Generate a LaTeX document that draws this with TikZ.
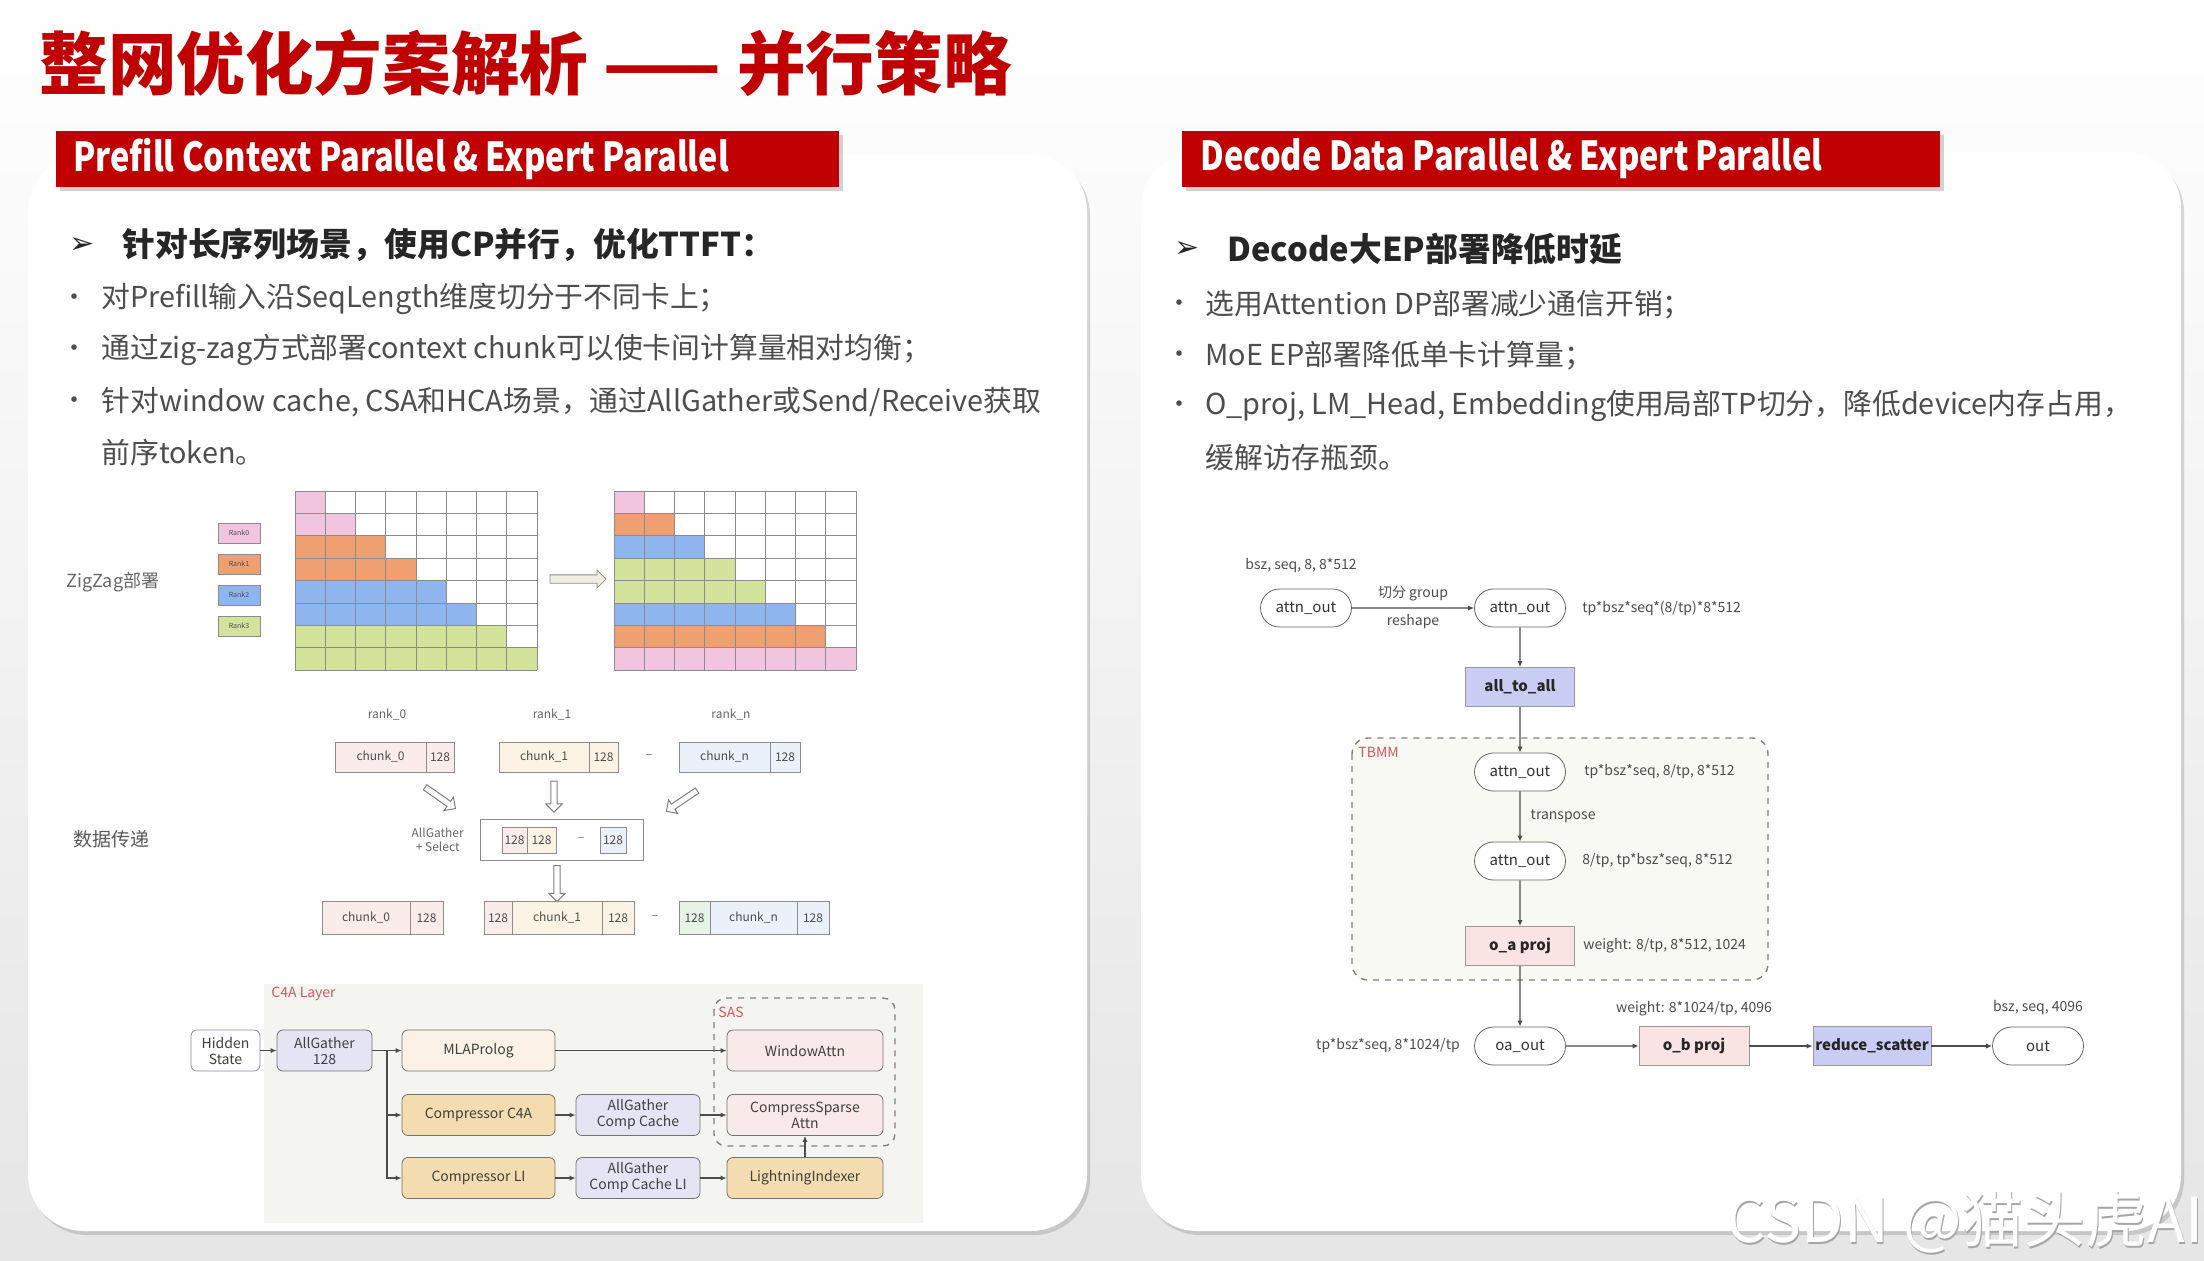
\documentclass[tikz,border=0pt]{standalone}
\usepackage{fontspec}
\setmainfont{Noto Sans CJK SC}
\newfontfamily\bannerfont[FakeStretch=0.815]{Noto Sans CJK SC}
\newfontfamily\arrowfont{DejaVu Sans}
\usetikzlibrary{positioning}
\usetikzlibrary{arrows.meta}
\usetikzlibrary{shapes.misc,shapes.arrows}
\usetikzlibrary{shadows}
\usetikzlibrary{calc}

\definecolor{titlered}{HTML}{C00000}
\definecolor{headgray}{HTML}{262626}
\definecolor{bodygray}{HTML}{4D4D4D}
\definecolor{zpink}{HTML}{F1C5E0}
\definecolor{zorange}{HTML}{EF9F70}
\definecolor{zblue}{HTML}{8FB5EE}
\definecolor{zgreen}{HTML}{D3E39C}
\definecolor{chpink}{HTML}{FCEBEB}
\definecolor{chbeige}{HTML}{FDF3E4}
\definecolor{chblue}{HTML}{EBF1FB}
\definecolor{chgreen}{HTML}{E5F4E4}
\definecolor{lav}{HTML}{E4E4F4}
\definecolor{tan}{HTML}{F3DCAF}
\definecolor{beige}{HTML}{FBF1E6}
\definecolor{lpink}{HTML}{FAE9E9}
\definecolor{opblue}{HTML}{C9CDF4}
\definecolor{oppink}{HTML}{F9E3E3}
\definecolor{flowred}{HTML}{D05A5A}
\definecolor{tbmmbg}{HTML}{F8F9F3}
\definecolor{c4abg}{HTML}{F4F5F0}
\definecolor{arrowbg}{HTML}{F0EEE0}

\begin{document}
\begin{tikzpicture}[x=0.5pt, y=-0.5pt,
  bullet/.style={anchor=west, inner sep=0, text=bodygray, font=\fontsize{14.4}{16}\selectfont},
  dot/.style={inner sep=0, text=bodygray, font=\fontsize{13}{16}\selectfont},
  headline/.style={anchor=west, inner sep=0, text=headgray, font=\fontsize{16.4}{18}\selectfont\bfseries},
  headmark/.style={inner sep=0, text=headgray, font=\arrowfont\fontsize{15}{16}\selectfont},
  bannertext/.style={anchor=west, inner sep=0, text=white, font=\bannerfont\fontsize{20}{22}\selectfont\bfseries},
  gridline/.style={draw=black!45, line width=0.5pt},
  rankbox/.style={draw=black!45, minimum width=21pt, minimum height=10pt, inner sep=0, font=\fontsize{3.5}{4}\selectfont, text=black!70},
  seg/.style={draw=black!45, minimum height=15pt, inner sep=0, outer sep=0, font=\fontsize{6}{7}\selectfont, text=black!70},
  hollow/.style={single arrow, draw=black!50, fill=white, inner sep=1.3pt, single arrow head extend=2.5pt, line width=0.5pt},
  small/.style={inner sep=0, font=\fontsize{6}{7}\selectfont, text=black!60},
  layer/.style={draw=black!55, rounded corners=3pt, minimum height=20.5pt, inner sep=1pt, align=center, font=\fontsize{7}{8}\selectfont, text=black!75},
  flow/.style={-{Latex[length=3pt,width=2.6pt]}, draw=black!70, line width=0.7pt},
  stadium/.style={rounded rectangle, draw=black!60, fill=white, minimum width=47.5pt, minimum height=19pt, inner sep=1pt, font=\fontsize{7.5}{8}\selectfont, text=black!80},
  opbox/.style={draw=black!40, minimum height=19.5pt, inner sep=1pt, font=\fontsize{7.5}{8}\selectfont\bfseries, text=black!85},
  note/.style={inner sep=0, font=\fontsize{7}{8}\selectfont, text=black!70},
  grouplabel/.style={inner sep=0, anchor=west, font=\fontsize{7}{8}\selectfont, text=flowred}]

  \useasboundingbox (0,0) rectangle (2204,1260);
  \shade[top color=white, bottom color=black!10] (0,0) rectangle (2204,1260);

  % panels and banners
  \path[fill=white, rounded corners=28pt, drop shadow={opacity=0.3, shadow xshift=1.5pt, shadow yshift=-2pt}] (28,155) rectangle (1087,1231);
  \path[fill=white, rounded corners=28pt, drop shadow={opacity=0.3, shadow xshift=1.5pt, shadow yshift=-2pt}] (1141,152) rectangle (2181,1231);
  \fill[titlered, drop shadow={opacity=0.35, shadow xshift=2pt, shadow yshift=-2pt}] (56,131) rectangle (839,187);
  \fill[titlered, drop shadow={opacity=0.35, shadow xshift=2pt, shadow yshift=-2pt}] (1182,131) rectangle (1940,187);

  \node[anchor=west, inner sep=0, text=titlered, font=\fontsize{34.3}{36}\selectfont\bfseries] (title) at (39,63) {整网优化方案解析 —— 并行策略};
  \node[bannertext] (bannerL) at (73,159) {Prefill Context Parallel \& Expert Parallel};
  \node[bannertext] (bannerR) at (1200,159) {Decode Data Parallel \& Expert Parallel};

  % left text
  \node[headmark] (markL) at (82,245) {➢};
  \node[headline] (headL) at (122,245) {针对长序列场景，使用CP并行，优化TTFT：};
  \node[dot] (dotL1) at (74,300) {•};
  \node[dot] (dotL2) at (74,351) {•};
  \node[dot] (dotL3) at (74,403) {•};
  \node[bullet] (lineL1) at (101,299) {对Prefill输入沿SeqLength维度切分于不同卡上；};
  \node[bullet] (lineL2) at (101,350) {通过zig-zag方式部署context chunk可以使卡间计算量相对均衡；};
  \node[bullet] (lineL3) at (101,402) {针对window cache, CSA和HCA场景，通过AllGather或Send/Receive获取};
  \node[bullet] (lineL4) at (101,453) {前序token。};

  % right text
  \node[headmark] (markR) at (1187,249) {➢};
  \node[headline] (headR) at (1227,249) {Decode大EP部署降低时延};
  \node[dot] (dotR1) at (1179,306) {•};
  \node[dot] (dotR2) at (1179,357) {•};
  \node[dot] (dotR3) at (1179,407) {•};
  \node[bullet] (lineR1) at (1205,305) {选用Attention DP部署减少通信开销；};
  \node[bullet] (lineR2) at (1205,356) {MoE EP部署降低单卡计算量；};
  \node[bullet] (lineR3) at (1205,406) {O\_proj, LM\_Head, Embedding使用局部TP切分，降低device内存占用，};
  \node[bullet] (lineR4) at (1205,458) {缓解访存瓶颈。};

  % zigzag grids
  \node[anchor=west, inner sep=0, text=black!60, font=\fontsize{9}{10}\selectfont] (zzlabel) at (66,582) {ZigZag部署};
  \node[rankbox, fill=zpink] (rank0) at (239,533) {Rank0};
  \node[rankbox, fill=zorange] (rank1) at (239,564) {Rank1};
  \node[rankbox, fill=zblue] (rank2) at (239,595) {Rank2};
  \node[rankbox, fill=zgreen] (rank3) at (239,626) {Rank3};
  \foreach \r/\n/\c in {0/1/zpink,1/2/zpink,2/3/zorange,3/4/zorange,4/5/zblue,5/6/zblue,6/7/zgreen,7/8/zgreen}
    \fill[\c] (295,491+\r*22.4) rectangle ++(\n*30.25,22.4);
  \foreach \r/\n/\c in {0/1/zpink,1/2/zorange,2/3/zblue,3/4/zgreen,4/5/zgreen,5/6/zblue,6/7/zorange,7/8/zpink}
    \fill[\c] (614,491+\r*22.4) rectangle ++(\n*30.25,22.4);
  \foreach \gx in {295,614}
    \foreach \i in {0,...,8} {
      \draw[gridline] (\gx+\i*30.25,491) -- ++(0,179.2);
      \draw[gridline] (\gx,491+\i*22.4) -- ++(242,0);
    }
  \node[single arrow, draw=black!45, fill=arrowbg, minimum height=28pt, minimum width=9pt, inner sep=1.5pt, single arrow head extend=2pt] (zzarrow) at (576,579) {};

  % data transfer
  \node[anchor=west, inner sep=0, text=black!65, font=\fontsize{9.5}{10}\selectfont] (dtlabel) at (73,839) {数据传递};
  \node[small] (lab0) at (387,715) {rank\_0};
  \node[small] (lab1) at (552,715) {rank\_1};
  \node[small] (labn) at (731,715) {rank\_n};

  \node[seg, fill=chpink, minimum width=45.5pt, anchor=west] (t0) at (335,757) {chunk\_0};
  \node[seg, fill=chpink, minimum width=14pt, right=0pt of t0] (t0b) {128};
  \node[seg, fill=chbeige, minimum width=45pt, anchor=west] (t1) at (499,757) {chunk\_1};
  \node[seg, fill=chbeige, minimum width=14.5pt, right=0pt of t1] (t1b) {128};
  \node[small] (tdots) at (649,757) {–};
  \node[seg, fill=chblue, minimum width=45.5pt, anchor=west] (tn) at (679,757) {chunk\_n};
  \node[seg, fill=chblue, minimum width=15pt, right=0pt of tn] (tnb) {128};

  \node[hollow, minimum height=18.5pt, minimum width=8pt, rotate=-35] (arr0) at (439,797) {};
  \node[hollow, minimum height=15.5pt, minimum width=8pt, rotate=-90] (arr1) at (554,795) {};
  \node[hollow, minimum height=18.5pt, minimum width=8pt, rotate=-146] (arrn) at (683,800) {};

  \node[draw=black!45, minimum width=81.5pt, minimum height=20.5pt, inner sep=0] (gather) at (562,840) {};
  \node[seg, fill=chpink, minimum width=12.5pt, minimum height=13pt, anchor=west] (g0) at (502,840) {128};
  \node[seg, fill=chbeige, minimum width=14.5pt, minimum height=13pt, right=0pt of g0] (g1) {128};
  \node[small] (gdots) at (581,840) {–};
  \node[seg, fill=chblue, minimum width=13pt, minimum height=13pt, anchor=west] (gn) at (600,840) {128};
  \node[small, align=center, left=8pt of gather] (aglabel) {AllGather\\+ Select};
  \node[hollow, minimum height=18pt, minimum width=8pt, rotate=-90] (arr2) at (557,882) {};

  \node[seg, fill=chpink, minimum width=44pt, minimum height=16.5pt, anchor=west] (b0) at (322,918) {chunk\_0};
  \node[seg, fill=chpink, minimum width=16.5pt, minimum height=16.5pt, right=0pt of b0] (b0b) {128};
  \node[seg, fill=chpink, minimum width=14pt, minimum height=16.5pt, anchor=west] (b1a) at (484,918) {128};
  \node[seg, fill=chbeige, minimum width=45pt, minimum height=16.5pt, right=0pt of b1a] (b1) {chunk\_1};
  \node[seg, fill=chbeige, minimum width=16pt, minimum height=16.5pt, right=0pt of b1] (b1b) {128};
  \node[small] (bdots) at (655,918) {–};
  \node[seg, fill=chgreen, minimum width=15.5pt, minimum height=16.5pt, anchor=west] (bna) at (679,918) {128};
  \node[seg, fill=chblue, minimum width=43.5pt, minimum height=16.5pt, right=0pt of bna] (bn) {chunk\_n};
  \node[seg, fill=chblue, minimum width=16pt, minimum height=16.5pt, right=0pt of bn] (bnb) {128};

  % C4A layer
  \fill[c4abg] (264,984) rectangle (923,1223);
  \node[grouplabel] (c4alabel) at (271,994) {C4A Layer};
  \draw[black!50, dashed, rounded corners=6pt, line width=0.7pt] (714,998) rectangle (895,1146);
  \node[grouplabel] (saslabel) at (718,1012) {SAS};
  \node[layer, fill=white, draw=blue!30!black!45, minimum width=34.5pt] (hidden) at (225.5,1050.5) {Hidden\\State};
  \node[layer, fill=lav, minimum width=47.5pt] (ag128) at (324.5,1050.5) {AllGather\\128};
  \node[layer, fill=beige, minimum width=76.5pt] (mla) at (478.5,1050.5) {MLAProlog};
  \node[layer, fill=lpink, minimum width=78pt] (win) at (805,1050.5) {WindowAttn};
  \node[layer, fill=tan, minimum width=76.5pt] (cc4a) at (478.5,1115) {Compressor C4A};
  \node[layer, fill=lav, minimum width=62pt] (agcc) at (638,1115) {AllGather\\Comp Cache};
  \node[layer, fill=lpink, minimum width=78pt] (csa) at (805,1115) {CompressSparse\\Attn};
  \node[layer, fill=tan, minimum width=76.5pt] (cli) at (478.5,1178) {Compressor LI};
  \node[layer, fill=lav, minimum width=62pt] (agccli) at (638,1178) {AllGather\\Comp Cache LI};
  \node[layer, fill=tan, minimum width=78pt] (li) at (805,1178) {LightningIndexer};
  \coordinate (split) at ($(ag128.east)!0.5!(mla.west)$);
  \draw[flow] (hidden) -- (ag128);
  \draw[flow] (ag128) -- (mla);
  \draw[flow] (mla) -- (win);
  \draw[flow] (split) |- (cc4a.west);
  \draw[flow] (split) |- (cli.west);
  \draw[flow] (cc4a) -- (agcc);
  \draw[flow] (agcc) -- (csa);
  \draw[flow] (cli) -- (agccli);
  \draw[flow] (agccli) -- (li);
  \draw[flow] (li) -- (csa);

  % decode flow
  \fill[tbmmbg, rounded corners=8pt] (1352,738) rectangle (1768,980);
  \draw[black!50, dashed, rounded corners=8pt, line width=0.7pt] (1352,738) rectangle (1768,980);
  \node[grouplabel] (tbmmlabel) at (1358,752) {TBMM};
  \node[stadium] (a1) at (1306,608) {attn\_out};
  \node[stadium] (a2) at (1520,608) {attn\_out};
  \node[opbox, fill=opblue, minimum width=54.5pt] (a2a) at (1520,687) {all\_to\_all};
  \node[stadium] (a3) at (1520,772) {attn\_out};
  \node[stadium] (a4) at (1520,861) {attn\_out};
  \node[opbox, fill=oppink, minimum width=54.5pt] (oap) at (1520,946) {o\_a proj};
  \node[stadium] (oaout) at (1520,1046) {oa\_out};
  \node[opbox, fill=oppink, minimum width=55pt] (obp) at (1694,1046) {o\_b proj};
  \node[opbox, fill=opblue, minimum width=59pt] (rs) at (1872,1046) {reduce\_scatter};
  \node[stadium] (outn) at (2038,1046) {out};

  \node[note, anchor=west] (n1) at (1245,566) {bsz, seq, 8, 8*512};
  \node[note, right=8pt of a2] (n2) {tp*bsz*seq*(8/tp)*8*512};
  \node[note, right=9pt of a3] (n3) {tp*bsz*seq, 8/tp, 8*512};
  \node[note, right=8pt of a4] (n4) {8/tp, tp*bsz*seq, 8*512};
  \node[note, right=4pt of oap] (n5) {weight: 8/tp, 8*512, 1024};
  \node[note, left=7pt of oaout] (n6) {tp*bsz*seq, 8*1024/tp};
  \node[note, above=5pt of obp] (n7) {weight: 8*1024/tp, 4096};
  \node[note, above=6pt of outn] (n8) {bsz, seq, 4096};

  \draw[flow] (a1) -- node[note, above=3pt] {切分 group} node[note, below=3pt] {reshape} (a2);
  \draw[flow] (a2) -- (a2a);
  \draw[flow] (a2a) -- (a3);
  \draw[flow] (a3) -- node[note, right=5pt] {transpose} (a4);
  \draw[flow] (a4) -- (oap);
  \draw[flow] (oap) -- (oaout);
  \draw[flow] (oaout) -- (obp);
  \draw[flow] (obp) -- (rs);
  \draw[flow] (rs) -- (outn);

  % watermark
  \node[anchor=east, inner sep=0, text=black!35, font=\fontsize{31}{32}\selectfont] (wmshadow) at (2205,1223.5) {CSDN @猫头虎AI};
  \node[anchor=east, inner sep=0, text=white, font=\fontsize{31}{32}\selectfont] (wm) at (2204,1222) {CSDN @猫头虎AI};
\end{tikzpicture}
\end{document}
